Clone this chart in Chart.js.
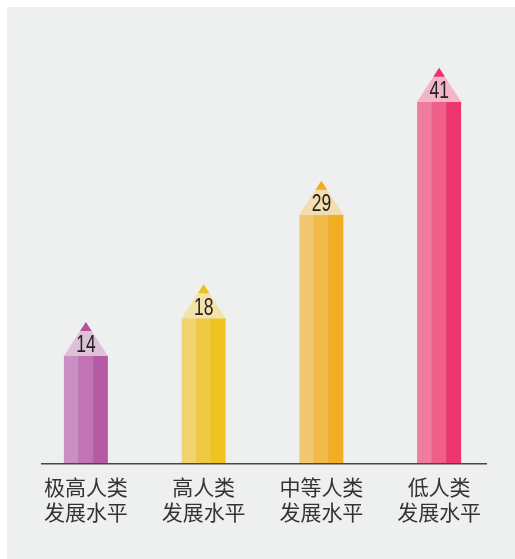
<!DOCTYPE html>
<html>
<head>
<meta charset="utf-8">
<script src="https://cdn.jsdelivr.net/npm/chart.js@4"></script>
<style>
    html, body { margin: 0; padding: 0; background: #ffffff; }
    #wrap { width: 515px; height: 559px; }
</style>
</head>
<body>
<div id="wrap"><canvas id="myChart" width="515" height="559"></canvas></div>
<script>
// categories (two-line labels) and values
const categories = [
    ['极高人类', '发展水平'],
    ['高人类', '发展水平'],
    ['中等人类', '发展水平'],
    ['低人类', '发展水平']
];
const values = [14, 18, 29, 41];

// pencil colours: three body stripes, tip wood, tip lead
const stripeColors = [
    ['#cc8fc3', '#c173b5', '#b55aa5'],
    ['#efd46f', '#efc944', '#efc420'],
    ['#f2c771', '#f2ba46', '#f1ae22'],
    ['#f07d9f', '#f05f89', '#ef3570']
];
const tipColors = ['#dfc0d9', '#f4e3a9', '#f5ddb0', '#f3b6c9'];
const leadColors = ['#b8509f', '#eec21d', '#f0ac1e', '#ee3370'];

const TIP_HEIGHT = 34;
const LEAD_HEIGHT = 9;

const pencilPlugin = {
    id: 'pencil',
    beforeDraw(chart) {
        const ctx = chart.ctx;
        ctx.save();
        ctx.fillStyle = '#ffffff';
        ctx.fillRect(0, 0, chart.width, chart.height);
        ctx.fillStyle = '#eef0ef';
        ctx.fillRect(7, 7, chart.width - 7, chart.height - 7);
        ctx.restore();
    },
    afterDatasetsDraw(chart) {
        const ctx = chart.ctx;
        const meta = chart.getDatasetMeta(0);
        ctx.save();
        meta.data.forEach((bar, i) => {
            const w = bar.width;
            const left = bar.x - w / 2;
            const top = bar.y;
            const bottom = Math.min(bar.base, chart.chartArea.bottom);
            const sw = w / 3;
            stripeColors[i].forEach((c, k) => {
                ctx.fillStyle = c;
                ctx.fillRect(left + k * sw, top, sw + (k < 2 ? 0.5 : 0), bottom - top);
            });
            // thin seams between stripes
            ctx.fillStyle = 'rgba(0,0,0,0.04)';
            ctx.fillRect(left + sw - 0.5, top, 1, bottom - top);
            ctx.fillRect(left + 2 * sw - 0.5, top, 1, bottom - top);

            // wooden tip
            const apex = top - TIP_HEIGHT;
            ctx.fillStyle = tipColors[i];
            ctx.beginPath();
            ctx.moveTo(left, top);
            ctx.lineTo(left + w, top);
            ctx.lineTo(bar.x, apex);
            ctx.closePath();
            ctx.fill();

            // lead
            const half = (w / 2) * LEAD_HEIGHT / TIP_HEIGHT;
            ctx.fillStyle = leadColors[i];
            ctx.beginPath();
            ctx.moveTo(bar.x - half, apex + LEAD_HEIGHT);
            ctx.lineTo(bar.x + half, apex + LEAD_HEIGHT);
            ctx.lineTo(bar.x, apex);
            ctx.closePath();
            ctx.fill();

            // value, squeezed to look like a condensed face
            ctx.save();
            ctx.translate(bar.x, top - 3.5);
            ctx.scale(0.76, 1);
            ctx.fillStyle = '#222222';
            ctx.font = '23px "Liberation Sans", Arial, sans-serif';
            ctx.textAlign = 'center';
            ctx.textBaseline = 'alphabetic';
            ctx.fillText(String(values[i]), 0, 0);
            ctx.restore();
        });

        // baseline
        const y = chart.chartArea.bottom + 0.5;
        ctx.strokeStyle = '#464646';
        ctx.lineWidth = 1.6;
        ctx.beginPath();
        ctx.moveTo(41, y);
        ctx.lineTo(487, y);
        ctx.stroke();
        ctx.restore();
    }
};

const config = {
    type: 'bar',
    data: {
        labels: categories,
        datasets: [{
            data: values,
            backgroundColor: 'rgba(0,0,0,0)',
            borderWidth: 0,
            barThickness: 44
        }]
    },
    options: {
        responsive: false,
        animation: false,
        layout: {
            padding: { left: 27, right: 17, top: 64, bottom: 23 }
        },
        plugins: {
            legend: { display: false },
            tooltip: { enabled: false }
        },
        scales: {
            x: {
                grid: { display: false, drawTicks: false },
                border: { display: false },
                ticks: {
                    color: '#333333',
                    padding: 12,
                    font: { family: '"Noto Sans CJK SC", sans-serif', size: 21, lineHeight: 1.16 }
                }
            },
            y: {
                display: false,
                min: 2.6,
                max: 45
            }
        }
    },
    plugins: [pencilPlugin]
};

const ctx = document.getElementById('myChart').getContext('2d');
if (ctx) {
    new Chart(ctx, config);
}
</script>
</body>
</html>
